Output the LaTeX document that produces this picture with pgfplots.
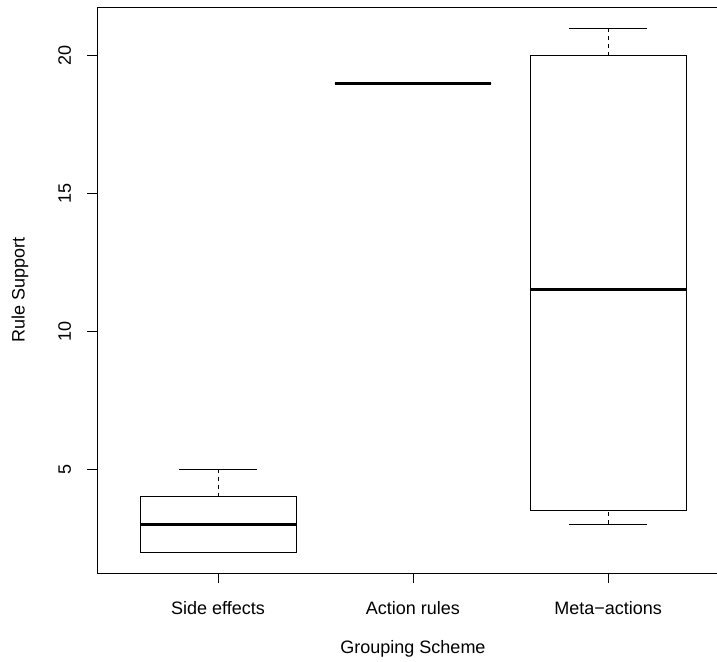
\documentclass[border=0pt]{standalone}
\usepackage{pgfplots}
\pgfplotsset{compat=1.18}
\usepgfplotslibrary{statistics}
\usepackage{fontspec}
\setmainfont{Liberation Sans}
\begin{document}
\fontsize{18bp}{21bp}\selectfont
\begin{tikzpicture}
\useasboundingbox (0bp,0bp) rectangle (717bp,662bp);
\begin{axis}[
  at={(97bp,89bp)}, anchor=south west,
  scale only axis, width=632bp, height=566bp,
  xmin=0.38, xmax=3.62, ymin=1.24, ymax=21.76,
  xtick={1,2,3}, xticklabels={Side effects,Action rules,Meta−actions},
  ytick={5,10,15,20},
  xtick pos=bottom, ytick pos=left,
  tick align=outside, major tick length=10bp,
  every tick/.style={black, line width=0.8bp},
  axis line style={black, line width=0.8bp},
  /pgf/number format/assume math mode=true,
  yticklabel style={xshift=-16bp, rotate=90, anchor=base},
  xticklabel style={yshift=-31bp, anchor=base},
  ylabel={Rule Support}, xlabel={Grouping Scheme},
  ylabel style={at={(axis description cs:-0.1218,0.5)}, anchor=center},
  xlabel style={at={(axis description cs:0.5,-0.134)}, anchor=center},
  boxplot/draw direction=y,
  boxplot/box extend=0.8,
  boxplot/whisker extend=0.4,
  boxplot/every median/.style={line width=3bp},
  boxplot/draw/lower whisker/.code={%
    \draw[dash pattern=on 4bp off 4bp]
      (boxplot cs:\pgfplotsboxplotvalue{lower whisker}) -- (boxplot cs:\pgfplotsboxplotvalue{lower quartile});
    \draw (boxplot whisker cs:\pgfplotsboxplotvalue{lower whisker},0) -- (boxplot whisker cs:\pgfplotsboxplotvalue{lower whisker},1);
  },
  boxplot/draw/upper whisker/.code={%
    \draw[dash pattern=on 4bp off 4bp]
      (boxplot cs:\pgfplotsboxplotvalue{upper quartile}) -- (boxplot cs:\pgfplotsboxplotvalue{upper whisker});
    \draw (boxplot whisker cs:\pgfplotsboxplotvalue{upper whisker},0) -- (boxplot whisker cs:\pgfplotsboxplotvalue{upper whisker},1);
  },
]
\addplot[black, line width=0.8bp, boxplot prepared={draw position=1,
  lower whisker=2, lower quartile=2, median=3, upper quartile=4, upper whisker=5}] coordinates {};
\addplot[black, line width=0.8bp, boxplot prepared={draw position=2,
  lower whisker=19, lower quartile=19, median=19, upper quartile=19, upper whisker=19}] coordinates {};
\addplot[black, line width=0.8bp, boxplot prepared={draw position=3,
  lower whisker=3, lower quartile=3.5, median=11.5, upper quartile=20, upper whisker=21}] coordinates {};
\end{axis}
\end{tikzpicture}
\end{document}
